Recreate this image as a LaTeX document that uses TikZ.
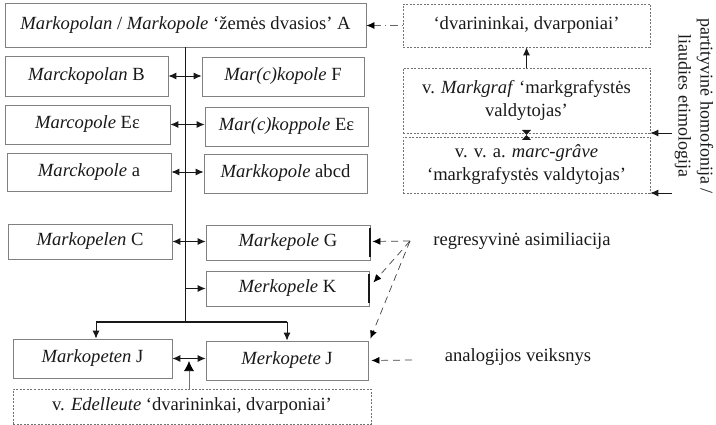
\documentclass[tikz,border=0pt]{standalone}
\usepackage{fontspec}
\setmainfont{Liberation Serif}
\usetikzlibrary{arrows.meta,calc}
\begin{document}
\begin{tikzpicture}[x=1pt,y=-1pt,
  >={Latex[length=8pt,width=7pt]},
  every node/.style={font=\fontsize{18.6}{23}\selectfont, text=black!90, inner sep=0pt},
  bx/.style={draw=black!50, line width=0.8pt},
  dbx/.style={draw=black!55, line width=0.6pt, dash pattern=on 2pt off 1.5pt, align=center},
  conn/.style={draw=black!90, line width=0.9pt},
  barline/.style={draw=black!90, line width=2pt},
  dsh/.style={draw=black!75, line width=0.7pt, dash pattern=on 7pt off 5pt, -{Latex[length=8pt,width=7pt,fill=black,color=black]}},
  ddot/.style={draw=black!60, line width=0.7pt, dash pattern=on 1pt off 4pt on 8pt off 4pt, -{Latex[length=8pt,width=7pt,fill=black,color=black]}},
  thickedge/.style={draw=black!90, line width=2pt}
]
\useasboundingbox (0,0) rectangle (716,425);

% left column boxes
\node[bx, minimum width=361pt, minimum height=44pt] (A) at (185.5,25) {\textit{Markopolan} / \textit{Markopole} ‘žemės dvasios’ A};
\node[bx, minimum width=163pt, minimum height=40pt] (B) at (86.5,76) {\textit{Marckopolan} B};
\node[bx, minimum width=162pt, minimum height=39pt] (F) at (283,76.5) {\textit{Mar(c)kopole} F};
\node[bx, minimum width=165pt, minimum height=39pt] (E1) at (87.5,124.5) {\textit{Marcopole} Eε};
\node[bx, minimum width=163pt, minimum height=39pt] (E2) at (286.5,126.5) {\textit{Mar(c)koppole} Eε};
\node[bx, minimum width=164pt, minimum height=38pt] (a) at (89,172) {\textit{Marckopole} a};
\node[bx, minimum width=163pt, minimum height=39pt] (abcd) at (285.5,173.5) {\textit{Markkopole} abcd};
\node[bx, minimum width=164pt, minimum height=35pt] (C) at (90,241.5) {\textit{Markopelen} C};
\node[bx, minimum width=164pt, minimum height=35pt] (G) at (288,242.5) {\textit{Markepole} G};
\node[bx, minimum width=163pt, minimum height=35pt] (K) at (287.5,288.5) {\textit{Merkopele} K};
\node[bx, minimum width=159pt, minimum height=39pt] (J1) at (92.5,358.5) {\textit{Markopeten} J};
\node[bx, minimum width=162pt, minimum height=39pt] (J2) at (287,360.5) {\textit{Merkopete} J};
\node[dbx, minimum width=358pt, minimum height=35pt] (Ed) at (192,406.5) {v. \textit{Edelleute} ‘dvarininkai, dvarponiai’};

% right column dashed boxes
\node[dbx, minimum width=247pt, minimum height=43pt] (dv) at (526.5,25.5) {‘dvarininkai, dvarponiai’};
\node[dbx, minimum width=247pt, minimum height=65pt] (mg) at (526.5,100.5) {v. \textit{Markgraf} ‘markgrafystės\\valdytojas’};
\node[dbx, minimum width=247pt, minimum height=56pt] (mcg) at (526.5,165) {v. v. a. \textit{marc-grâve}\\‘markgrafystės valdytojas’};

% rotated label
\node[rotate=-90, align=center, font=\fontsize{18}{22}\selectfont] (pht) at (694,106) {partityvinė homofonija /\\liaudies etimologija};

% free labels
\node (rgl) at (522,241) {regresyvinė asimiliacija};
\node (anl) at (518,357) {analogijos veiksnys};

% trunk and bar
\coordinate (barL) at (96,322);
\coordinate (barR) at (287,322);
\draw[conn] (A.south) -- (A.south |- barL);
\draw[barline] (barL) -- (barR);
\draw[conn,->] (barL) -- (barL |- J1.north);
\draw[conn,->] (barR) -- (J2.north);

% double arrows
\draw[conn,<->] (B.east) -- (B.east -| F.west);
\draw[conn,<->] (E1.east) -- (E1.east -| E2.west);
\draw[conn,<->] (a.east) -- (a.east -| abcd.west);
\draw[conn,<->] (C.east) -- (C.east -| G.west);
\draw[conn,->] (A.south |- K.west) -- (K.west);
\draw[conn,<->] (J1.east) -- (J1.east -| J2.west);

% Edelleute influence
\coordinate (jm) at ($(J1.east)!0.5!(J2.west)$);
\draw[draw=black!55, line width=0.7pt, -{Latex[length=10pt,width=10pt,fill=black,color=black]}] (Ed.north -| jm) -- ($(jm)+(0,1.5)$);

% thick edges
\draw[thickedge] ($(G.north east)+(0,3)$) -- ($(G.south east)+(0,-3)$);
\draw[thickedge] ($(K.north east)+(0,3)$) -- ($(K.south east)+(0,-3)$);

% regressive assimilation
\coordinate (rg) at (410,241);
\draw[dsh] (rg) -- ($(G.east)+(2,-1)$);
\draw[dsh] (rg) -- ($(K.east)+(4,-6)$);
\draw[dsh] (rg) -- ($(J2.north east)+(2,-2)$);
% analogy
\coordinate (an) at (412,360);
\draw[dsh] (an) -- ($(J2.east)+(3,0)$);

% right column connections
\draw[ddot] (dv.west) -- (A.east |- dv.west);
\draw[conn,->] (mg.north) -- (dv.south);
\coordinate (hg) at ($(mg.south)!0.5!(mcg.north)$);
\fill[black!90] (hg) -- ++(-4.5,-5) -- ++(9,0) -- cycle;
\fill[black!90] (hg) -- ++(-4.5,5) -- ++(9,0) -- cycle;
\coordinate (p1) at (672,133);
\coordinate (p2) at (672,193);
\draw[conn,->] (p1) -- (p1 -| mg.east);
\draw[conn,->] (p2) -- (p2 -| mcg.east);
\end{tikzpicture}
\end{document}
